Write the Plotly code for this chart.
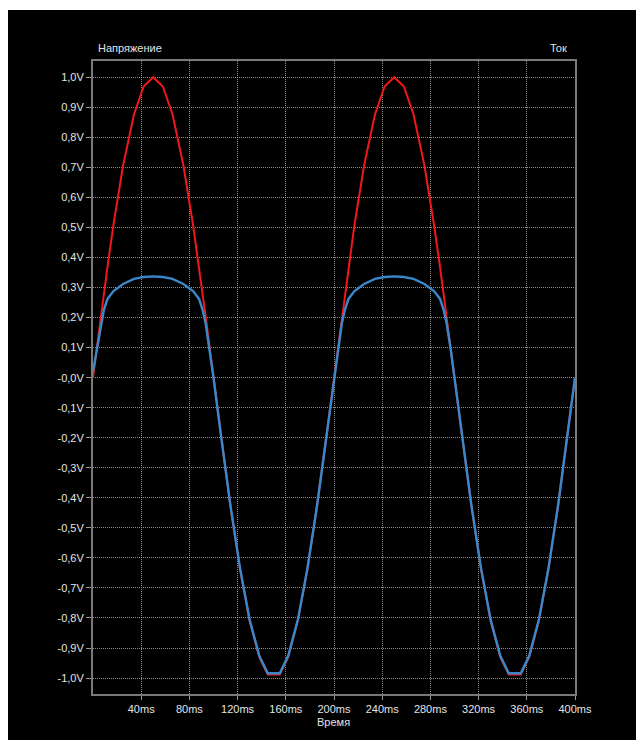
import plotly.graph_objects as go

# ---- data ----
time_ms = [0, 3, 6.5, 9, 12, 17, 25, 34, 42, 50, 58, 66, 75, 83, 88, 91, 93.5, 97, 100,
           106, 114, 122, 130, 138, 145, 155, 162, 170, 178, 186, 194, 200,
           203, 206.5, 209, 212, 217, 225, 234, 242, 250, 258, 266, 275, 283, 288, 291, 293.5, 297, 300,
           306, 314, 322, 330, 338, 345, 355, 362, 370, 378, 386, 394, 400]

voltage = [0.0, 0.094, 0.203, 0.279, 0.368, 0.509, 0.707, 0.876, 0.969, 1.0, 0.969, 0.876, 0.707, 0.509, 0.368, 0.279, 0.203, 0.094, 0.0,
           -0.187, -0.426, -0.637, -0.809, -0.930, -0.988, -0.988, -0.930, -0.809, -0.637, -0.426, -0.187, 0.0,
           0.094, 0.203, 0.279, 0.368, 0.509, 0.707, 0.876, 0.969, 1.0, 0.969, 0.876, 0.707, 0.509, 0.368, 0.279, 0.203, 0.094, 0.0,
           -0.187, -0.426, -0.637, -0.809, -0.930, -0.988, -0.988, -0.930, -0.809, -0.637, -0.426, -0.187, 0.0]

current = [0.02, 0.09, 0.18, 0.225, 0.262, 0.288, 0.312, 0.329, 0.335, 0.337, 0.335, 0.329, 0.312, 0.288, 0.262, 0.225, 0.18, 0.09, 0.0,
           -0.186, -0.424, -0.634, -0.806, -0.926, -0.984, -0.984, -0.926, -0.806, -0.634, -0.424, -0.186, 0.0,
           0.09, 0.18, 0.225, 0.262, 0.288, 0.312, 0.329, 0.335, 0.337, 0.335, 0.329, 0.312, 0.288, 0.262, 0.225, 0.18, 0.09, 0.0,
           -0.186, -0.424, -0.634, -0.806, -0.926, -0.984, -0.984, -0.926, -0.806, -0.634, -0.424, -0.186, 0.0]

x_tick_vals = [40, 80, 120, 160, 200, 240, 280, 320, 360, 400]
x_tick_text = ["40ms", "80ms", "120ms", "160ms", "200ms", "240ms", "280ms", "320ms", "360ms", "400ms"]

y_tick_vals = [1.0, 0.9, 0.8, 0.7, 0.6, 0.5, 0.4, 0.3, 0.2, 0.1, 0.0,
               -0.1, -0.2, -0.3, -0.4, -0.5, -0.6, -0.7, -0.8, -0.9, -1.0]
y_tick_text = ["1,0V", "0,9V", "0,8V", "0,7V", "0,6V", "0,5V", "0,4V", "0,3V", "0,2V", "0,1V", "-0,0V",
               "-0,1V", "-0,2V", "-0,3V", "-0,4V", "-0,5V", "-0,6V", "-0,7V", "-0,8V", "-0,9V", "-1,0V"]

title_left = "Напряжение"
title_right = "Ток"
title_x = "Время"

# ---- layout geometry (pixels, page body has an 8px margin) ----
OFF = 8
W, H = 644 - OFF, 740 - OFF
L, R, T, B = 93 - OFF, 69, 61 - OFF, 46
pw, ph = W - L - R, H - T - B


def px_x(px):
    return (px - OFF - L) / pw


def px_y(py):
    return (H - B - (py - OFF)) / ph


txt = "#e4e4e4"
grid = "#8c8c8c"
font_family = "Liberation Sans, Arial, sans-serif"

fig = go.Figure()
fig.add_trace(go.Scatter(x=time_ms, y=voltage, mode="lines",
                         line=dict(color="#f01818", width=2), name="Напряжение",
                         showlegend=False))
fig.add_trace(go.Scatter(x=time_ms, y=current, mode="lines",
                         line=dict(color="#3a87c9", width=2.4), name="Ток",
                         showlegend=False))

fig.update_layout(
    width=W, height=H,
    margin=dict(l=L, r=R, t=T, b=B, pad=0),
    paper_bgcolor="black",
    plot_bgcolor="black",
    font=dict(family=font_family, size=11, color=txt),
    shapes=[dict(type="rect", xref="paper", yref="paper", layer="below",
                 x0=px_x(0), x1=px_x(W + 20), y0=px_y(10), y1=px_y(-5),
                 fillcolor="white", line=dict(width=0))],
    annotations=[
        dict(text=title_left, xref="paper", yref="paper", x=px_x(96), y=px_y(48),
             xanchor="left", yanchor="middle", showarrow=False,
             font=dict(size=11, color=txt, family=font_family)),
        dict(text=title_right, xref="paper", yref="paper", x=px_x(569), y=px_y(48),
             xanchor="right", yanchor="middle", showarrow=False,
             font=dict(size=11, color=txt, family=font_family)),
        dict(text=title_x, xref="paper", yref="paper", x=px_x(333), y=px_y(722),
             xanchor="center", yanchor="middle", showarrow=False,
             font=dict(size=11, color=txt, family=font_family)),
    ],
)

fig.update_xaxes(range=[0, 400], tickmode="array", tickvals=x_tick_vals, ticktext=x_tick_text,
                 showgrid=True, gridcolor=grid, griddash="1px,1px", gridwidth=1,
                 showline=True, linecolor="#7a7a7a", linewidth=2, mirror=True,
                 ticks="outside", ticklen=4, tickcolor="#9a9a9a", zeroline=False,
                 tickfont=dict(size=11, color=txt))
fig.update_yaxes(range=[-1.053, 1.054], tickmode="array", tickvals=y_tick_vals, ticktext=y_tick_text,
                 showgrid=True, gridcolor=grid, griddash="1px,1px", gridwidth=1,
                 showline=True, linecolor="#7a7a7a", linewidth=2, mirror=True,
                 ticks="outside", ticklen=5, tickcolor="#9a9a9a", zeroline=False,
                 tickfont=dict(size=11, color=txt))

fig.write_html("out.html")
